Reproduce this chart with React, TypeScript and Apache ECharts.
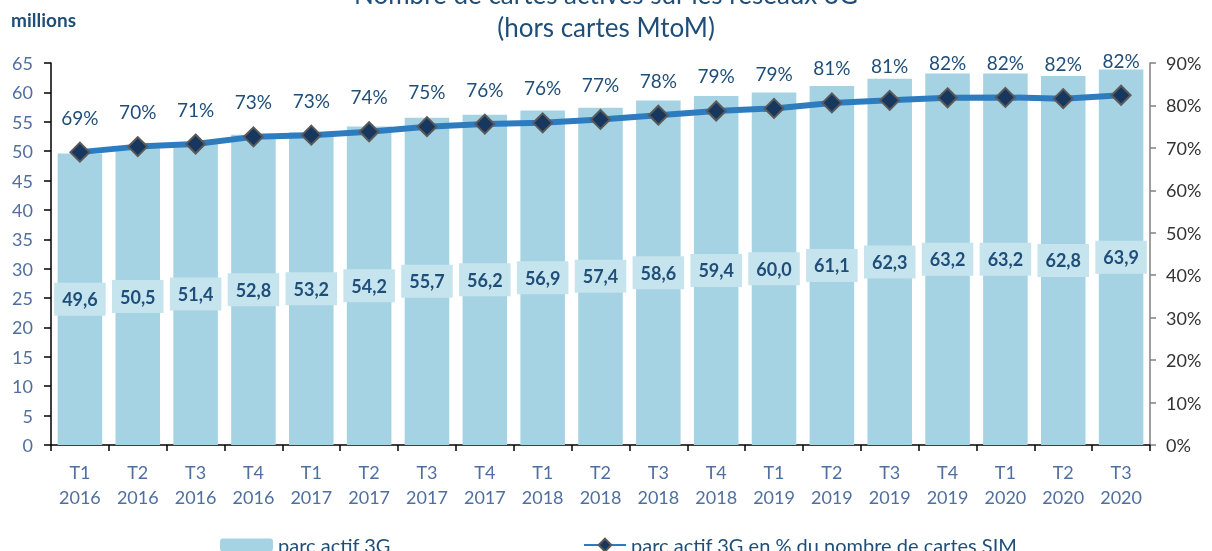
import React, { useEffect, useRef } from "react";
import * as echarts from "echarts";

const categories = [
  "T1\n2016", "T2\n2016", "T3\n2016", "T4\n2016",
  "T1\n2017", "T2\n2017", "T3\n2017", "T4\n2017",
  "T1\n2018", "T2\n2018", "T3\n2018", "T4\n2018",
  "T1\n2019", "T2\n2019", "T3\n2019", "T4\n2019",
  "T1\n2020", "T2\n2020", "T3\n2020",
];
const parcActif = [49.6, 50.5, 51.4, 52.8, 53.2, 54.2, 55.7, 56.2, 56.9, 57.4, 58.6, 59.4, 60.0, 61.1, 62.3, 63.2, 63.2, 62.8, 63.9];
const parcPct = [69.0, 70.3, 70.9, 72.6, 73.0, 73.8, 75.0, 75.6, 75.9, 76.7, 77.7, 78.7, 79.3, 80.6, 81.2, 81.8, 81.9, 81.6, 82.4];
const barName = "parc actif 3G";
const lineName = "parc actif 3G en % du nombre de cartes SIM";

const FONT = "Lato";
const NAVY = "#1f4e79";
const AXISBLUE = "#4f6fa0";

export default function App() {
  const ref = useRef<HTMLDivElement>(null);
  useEffect(() => {
    const chart = echarts.init(ref.current!, null, { renderer: "svg" });
    chart.setOption({
      animation: false,
      textStyle: { fontFamily: FONT },
      title: {
        text: "Nombre de cartes actives sur les réseaux 3G\n(hors cartes MtoM)",
        left: "center",
        top: -23,
        padding: 0,
        textStyle: { fontFamily: FONT, fontSize: 26, fontWeight: "normal", color: NAVY, lineHeight: 33 },
      },
      graphic: [
        {
          type: "text",
          left: 11,
          top: 10,
          style: { text: "millions", fontFamily: FONT, fontSize: 19, fontWeight: "bold", fill: NAVY },
        },
      ],
      legend: [
        {
          data: [barName],
          left: 215,
          top: 530,
          itemWidth: 53,
          itemHeight: 13,
          itemGap: 6,
          textStyle: { fontFamily: FONT, fontSize: 20, color: NAVY },
        },
        {
          data: [lineName],
          left: 578,
          top: 530,
          itemWidth: 42,
          itemHeight: 16,
          textStyle: { fontFamily: FONT, fontSize: 20, color: NAVY },
        },
      ],
      grid: { left: 51, right: 62, top: 63, bottom: 106 },
      xAxis: {
        type: "category",
        data: categories,
        boundaryGap: true,
        axisLine: { lineStyle: { color: "#000", width: 1.5 } },
        axisTick: { show: true, alignWithLabel: false, length: 6, lineStyle: { color: "#000", width: 1.5 } },
        axisLabel: { fontFamily: FONT, fontSize: 18, color: AXISBLUE, lineHeight: 25, margin: 14 },
      },
      yAxis: [
        {
          type: "value",
          min: 0,
          max: 65,
          interval: 5,
          position: "left",
          splitLine: { show: false },
          axisLine: { show: true, lineStyle: { color: "#000", width: 1.5 } },
          axisTick: { show: true, length: 7, lineStyle: { color: "#000", width: 1.5 } },
          axisLabel: { fontFamily: FONT, fontSize: 18, color: AXISBLUE, margin: 18 },
        },
        {
          type: "value",
          min: 0,
          max: 90,
          interval: 10,
          position: "right",
          splitLine: { show: false },
          axisLine: { show: true, lineStyle: { color: "#808080", width: 1.5 } },
          axisTick: { show: true, length: 6, lineStyle: { color: "#808080", width: 1.5 } },
          axisLabel: { fontFamily: FONT, fontSize: 18, color: "#333", margin: 16, formatter: "{value}%" },
        },
      ],
      series: [
        {
          name: barName,
          type: "bar",
          data: parcActif,
          yAxisIndex: 0,
          barWidth: "77%",
          itemStyle: { color: "#a6d3e3" },
          label: {
            show: true,
            position: "inside",
            formatter: (p: any) => p.value.toFixed(1).replace(".", ","),
            fontFamily: FONT,
            fontSize: 18,
            fontWeight: "bold",
            color: NAVY,
            backgroundColor: "#c6e4ee",
            padding: [8, 8, 7, 8],
          },
        },
        {
          name: lineName,
          type: "line",
          data: parcPct,
          yAxisIndex: 1,
          symbol: "diamond",
          symbolSize: 19,
          lineStyle: { color: "#2e7cc0", width: 6 },
          itemStyle: { color: "#17375e", borderColor: "#5a5a5a", borderWidth: 2 },
          label: {
            show: true,
            position: "top",
            distance: 15,
            formatter: (p: any) => Math.round(p.value) + "%",
            fontFamily: FONT,
            fontSize: 19,
            color: NAVY,
          },
        },
      ],
    });
    return () => chart.dispose();
  }, []);
  return <div ref={ref} style={{ position: "fixed", left: 0, top: 0, width: 1212, height: 551 }} />;
}
